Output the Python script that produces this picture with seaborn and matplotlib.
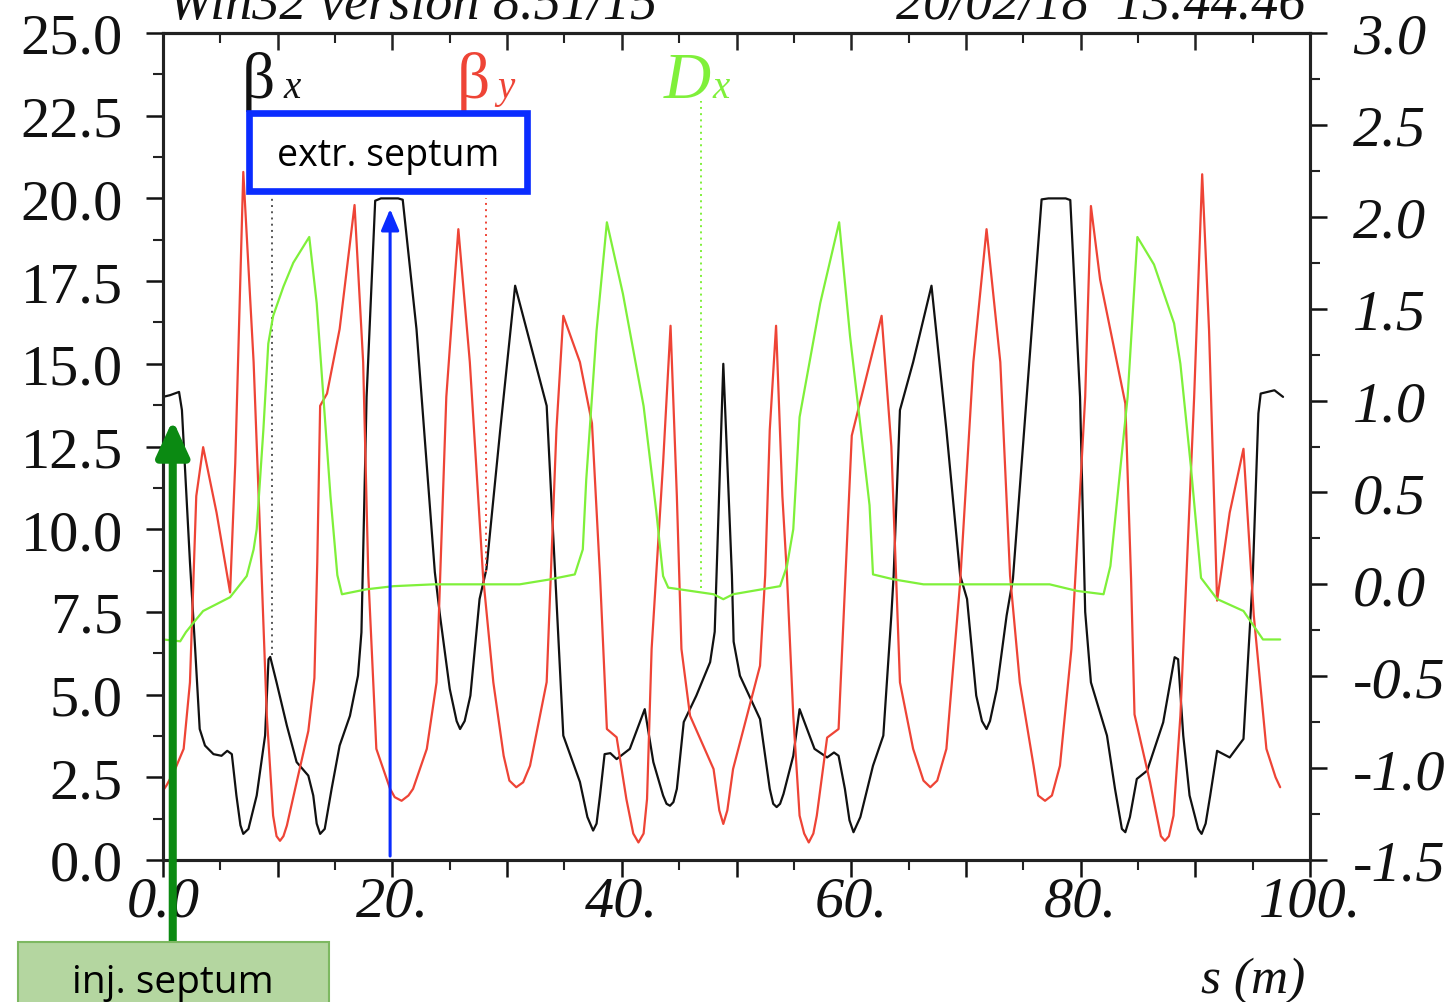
import numpy as np
import pandas as pd
import matplotlib
matplotlib.use("Agg")
import matplotlib.pyplot as plt
import seaborn as sns
from matplotlib.patches import Rectangle, FancyArrowPatch

# ---------------- data ----------------
s_bx = [0.0, 0.6, 1.4, 1.65, 2.35, 2.8, 3.2, 3.66, 4.4, 5.1, 5.6, 6.0, 6.4, 6.75, 7.0, 7.45,
        8.17, 8.9, 9.2, 9.35, 9.9, 10.8, 11.65, 12.67, 13.1, 13.4, 13.7, 14.1, 14.7, 15.4,
        16.3, 17.0, 17.3, 17.75, 18.5, 19.0, 20.5, 20.9, 22.1, 23.7, 24.15, 25.0, 25.6,
        25.9, 26.3, 26.8, 27.6, 28.2, 29.4, 30.7, 32.3, 33.45, 34.2, 34.9, 36.35, 37.0,
        37.5, 37.8, 38.1, 38.5, 39.0, 39.55, 40.7, 42.0, 42.75, 43.6, 43.9, 44.2, 44.5, 44.8,
        45.4, 46.5, 47.7, 48.1, 48.85, 49.6, 49.75, 50.3, 52.05, 52.9, 53.2, 53.5, 53.8, 54.1,
        54.95, 55.5, 56.8, 57.9, 58.5, 58.9, 59.45, 59.85, 60.2, 60.8, 61.9, 62.8, 63.5, 63.7,
        64.25, 65.4, 67.0, 68.3, 69.5, 70.1, 70.9, 71.4, 71.8, 72.1, 72.7, 73.55, 74.1, 76.6,
        77.2, 78.7, 79.1, 79.95, 80.4, 80.9, 82.3, 83.0, 83.6, 83.9, 84.3, 84.9, 85.8, 87.2,
        88.2, 88.5, 88.95, 89.5, 90.25, 90.55, 90.9, 91.3, 91.9, 93.0, 94.2, 95.0, 95.5, 95.7,
        96.9, 97.65]
beta_x = [14.0, 14.05, 14.15, 13.6, 9.0, 6.4, 3.96, 3.46, 3.2, 3.15, 3.3, 3.2, 1.95, 1.05, 0.79, 0.94,
          1.95, 3.76, 6.07, 6.14, 5.37, 4.06, 2.96, 2.55, 1.95, 1.1, 0.79, 0.94, 2.15, 3.46,
          4.36, 5.57, 6.88, 14.0, 19.93, 20.0, 20.0, 19.96, 16.05, 8.7, 7.39, 5.17, 4.2,
          3.96, 4.2, 4.97, 7.89, 8.8, 13.0, 17.36, 15.25, 13.73, 8.6, 3.76, 2.36, 1.3,
          0.89, 1.1, 1.95, 3.2, 3.23, 3.05, 3.36, 4.56, 2.96, 1.95, 1.7, 1.64, 1.75, 2.15,
          4.17, 4.97, 5.98, 6.9, 15.0, 8.6, 6.6, 5.57, 4.26, 2.15, 1.7, 1.6, 1.7, 2.0,
          3.15, 4.56, 3.36, 3.1, 3.25, 3.15, 2.15, 1.2, 0.84, 1.3, 2.85, 3.76, 7.4, 8.6,
          13.6, 15.05, 17.36, 13.0, 8.6, 7.89, 4.97, 4.2, 3.96, 4.2, 5.17, 7.39, 8.5, 19.97,
          20.0, 20.0, 19.95, 14.0, 7.5, 5.37, 3.76, 2.15, 0.94, 0.84, 1.3, 2.45, 2.7, 4.16,
          6.13, 6.07, 3.76, 1.95, 0.94, 0.79, 1.1, 1.95, 3.3, 3.1, 3.66, 8.5, 13.5, 14.1,
          14.2, 14.0]

s_by = [0.0, 0.3, 1.0, 1.8, 2.35, 2.9, 3.5, 4.67, 5.85, 6.3, 7.0, 7.9, 8.6, 9.05, 9.6, 9.9,
        10.2, 10.5, 10.8, 11.65, 12.67, 13.2, 13.45, 13.7, 14.3, 15.4, 16.7, 17.45, 17.9, 18.6,
        19.8, 20.2, 20.8, 21.4, 21.8, 23.0, 23.85, 24.7, 25.75, 26.75, 27.9, 28.8, 29.7, 30.2,
        30.8, 31.4, 32.0, 33.45, 34.3, 34.9, 36.35, 37.4, 38.1, 38.7, 39.55, 40.4, 41.0, 41.45,
        41.9, 42.2, 42.6, 43.6, 44.25, 44.8, 45.2, 45.95, 48.0, 48.5, 48.85, 49.2, 49.7, 52.05,
        52.5, 52.9, 53.45, 54.0, 54.4, 54.95, 55.5, 55.9, 56.3, 56.7, 57.0, 57.9, 58.9, 59.6,
        60.05, 62.65, 63.5, 64.25, 65.4, 66.3, 66.9, 67.5, 68.3, 69.5, 70.65, 71.8, 73.0, 73.85,
        74.7, 75.9, 76.3, 76.9, 77.5, 78.2, 79.2, 80.4, 80.9, 81.7, 83.9, 84.4, 84.7, 86.05,
        87.0, 87.35, 87.7, 88.1, 88.7, 89.9, 90.6, 91.2, 91.9, 93.0, 94.2, 95.1, 96.2, 97.0,
        97.4]
beta_y = [2.1, 2.25, 2.7, 3.36, 5.37, 11.0, 12.48, 10.5, 8.09, 12.0, 20.8, 15.05, 8.6, 4.36, 1.34, 0.72,
          0.58, 0.72, 1.04, 2.35, 3.9, 5.5, 9.0, 13.73, 14.1, 16.05, 19.8, 15.05, 8.6, 3.36,
          2.15, 1.9, 1.79, 1.95, 2.15, 3.36, 5.37, 14.0, 19.07, 15.05, 8.6, 5.37, 3.15, 2.4,
          2.2, 2.35, 2.85, 5.38, 13.0, 16.45, 15.05, 13.2, 8.6, 3.96, 3.71, 1.84, 0.8, 0.53,
          0.8, 1.84, 6.38, 12.0, 16.15, 11.0, 6.38, 4.36, 2.75, 1.5, 1.09, 1.5, 2.75, 5.87,
          8.6, 13.0, 16.15, 11.0, 8.6, 4.36, 1.34, 0.8, 0.53, 0.8, 1.34, 3.7, 3.96, 9.4,
          12.83, 16.45, 12.5, 5.37, 3.36, 2.4, 2.2, 2.4, 3.36, 8.4, 15.05, 19.07, 15.05, 8.6,
          5.37, 2.85, 1.95, 1.79, 1.95, 2.85, 6.38, 14.0, 19.77, 17.55, 13.8, 8.5, 4.4, 2.36,
          0.72, 0.58, 0.72, 1.34, 4.36, 14.0, 20.73, 16.0, 7.84, 10.5, 12.43, 7.39, 3.36, 2.5,
          2.2]

s_dx = [0.0, 1.5, 2.0, 2.64, 3.5, 5.85, 7.3, 7.9, 8.17, 8.75, 9.18, 9.6, 10.5, 11.36, 12.75,
        13.4, 14.6, 15.2, 15.6, 17.75, 20.1, 23.6, 31.1, 33.75, 35.9, 36.6, 36.9, 37.8,
        38.7, 40.1, 41.9, 43.0, 43.6, 44.05, 48.0, 48.85, 49.7, 53.8, 54.4, 54.95, 55.5,
        57.3, 58.95, 59.9, 61.6, 61.9, 63.7, 66.3, 77.3, 79.7, 82.0, 82.6, 84.1, 84.95,
        86.4, 88.15, 88.7, 89.6, 90.5, 91.9, 94.2, 95.9, 97.4]
disp_x = [-0.30, -0.31, -0.26, -0.21, -0.145, -0.07, 0.045, 0.19, 0.30, 0.84, 1.31, 1.46, 1.62, 1.75, 1.89,
          1.53, 0.48, 0.05, -0.054, -0.027, -0.01, 0.0, 0.0, 0.027, 0.054, 0.19, 0.57, 1.38,
          1.97, 1.58, 0.97, 0.40, 0.045, -0.018, -0.054, -0.081, -0.054, -0.01, 0.1, 0.30, 0.91,
          1.53, 1.97, 1.35, 0.43, 0.054, 0.027, 0.0, 0.0, -0.036, -0.054, 0.1, 1.02, 1.89,
          1.74, 1.42, 1.20, 0.65, 0.035, -0.08, -0.145, -0.30, -0.30]

x_ticks = [0, 10, 20, 30, 40, 50, 60, 70, 80, 90, 100]
x_ticklabels = ["0.0", "", "20.", "", "40.", "", "60.", "", "80.", "", "100."]
left_ticks = [0.0, 2.5, 5.0, 7.5, 10.0, 12.5, 15.0, 17.5, 20.0, 22.5, 25.0]
left_ticklabels = ["0.0", "2.5", "5.0", "7.5", "10.0", "12.5", "15.0", "17.5", "20.0", "22.5", "25.0"]
right_ticks = [-1.5, -1.0, -0.5, 0.0, 0.5, 1.0, 1.5, 2.0, 2.5, 3.0]
right_ticklabels = ["-1.5", "-1.0", "-0.5", "0.0", "0.5", "1.0", "1.5", "2.0", "2.5", "3.0"]

# label leader lines (s position, bottom, top)
leader_bx = (9.5, 6.2, 20.0)
leader_by = (28.2, 8.7, 20.0)
leader_dx = (46.9, -0.02, 2.63)   # in Dx units
inj_septum_s = 0.85
extr_septum_s = 19.8

# ---------------- style ----------------
sns.set_theme(style="white")
plt.rcParams['font.family'] = ['Liberation Serif', 'DejaVu Serif']
plt.rcParams['axes.unicode_minus'] = False

RED = '#ee4436'
GREEN = '#7ff03a'
W, H = 1452, 1003
fig = plt.figure(figsize=(W / 100, H / 100), dpi=100)
fig.patch.set_facecolor('white')
L, R, T, B = 163, 1310, 34, 861
ax = fig.add_axes([L / W, 1 - B / H, (R - L) / W, (B - T) / H])
ax2 = ax.twinx()


def fx(px):
    return px / W


def fy(py):
    return 1 - py / H


df_bx = pd.DataFrame({'s': s_bx, 'v': beta_x})
df_by = pd.DataFrame({'s': s_by, 'v': beta_y})
df_dx = pd.DataFrame({'s': s_dx, 'v': disp_x})

sns.lineplot(data=df_bx, x='s', y='v', ax=ax, color='#111111', lw=1.6, estimator=None, sort=False)
sns.lineplot(data=df_by, x='s', y='v', ax=ax, color=RED, lw=1.6, estimator=None, sort=False)
sns.lineplot(data=df_dx, x='s', y='v', ax=ax2, color=GREEN, lw=1.6, estimator=None, sort=False)

ax.vlines(leader_bx[0], leader_bx[1], leader_bx[2], colors='#555555', linestyles=(0, (1, 2.2)), lw=1.4)
ax.vlines(leader_by[0], leader_by[1], leader_by[2], colors=RED, linestyles=(0, (1, 2.2)), lw=1.4)
ax2.vlines(leader_dx[0], leader_dx[1], leader_dx[2], colors=GREEN, linestyles=(0, (1, 2.2)), lw=1.4)

ax.set_xlim(0, 100)
ax.set_ylim(0, 25)
ax2.set_ylim(-1.5, 3.0)
for a in (ax, ax2):
    a.set_xlabel('')
    a.set_ylabel('')
    for sp in a.spines.values():
        sp.set_linewidth(2.2)
        sp.set_color('#222222')

TFS = 42
ax.set_xticks(x_ticks)
ax.set_xticklabels(x_ticklabels, fontstyle='italic', fontsize=TFS)
ax.set_xticks(list(range(5, 100, 10)), minor=True)
ax.set_yticks(left_ticks)
ax.set_yticklabels(left_ticklabels, fontsize=TFS)
ax.set_yticks([v + 1.25 for v in left_ticks[:-1]], minor=True)
ax2.set_yticks(right_ticks)
ax2.set_yticklabels(right_ticklabels, fontstyle='italic', fontsize=TFS)
ax2.set_yticks([v + 0.25 for v in right_ticks[:-1]], minor=True)

ax.tick_params(axis='x', which='major', direction='out', length=12, width=1.8, pad=-1, bottom=True, top=False, colors='#111111')
ax.tick_params(axis='x', which='minor', direction='out', length=7, width=1.5, bottom=True, top=False, color='#222222')
ax.tick_params(axis='y', which='major', direction='out', length=12, width=1.8, pad=17, left=True, right=False, colors='#111111')
ax.tick_params(axis='y', which='minor', direction='out', length=7, width=1.5, left=True, right=False, color='#222222')
ax2.tick_params(axis='y', which='major', direction='out', length=12, width=1.8, pad=19, right=True, left=False, colors='#111111')
ax2.tick_params(axis='y', which='minor', direction='out', length=7, width=1.5, right=True, left=False, color='#222222')

sec = ax.secondary_xaxis('top')
sec.set_xticks(x_ticks)
sec.set_xticks(list(range(5, 100, 10)), minor=True)
sec.tick_params(axis='x', which='major', direction='in', length=12, width=1.8, labeltop=False, color='#222222')
sec.tick_params(axis='x', which='minor', direction='in', length=7, width=1.5, labeltop=False, color='#222222')
sec.spines['top'].set_linewidth(2.2)

# header texts (clipped at the top of the image, as in the original)
fig.text(fx(168), fy(19), 'Win32 version 8.51/15', fontsize=39, fontstyle='italic', va='baseline', ha='left', color='#111111')
fig.text(fx(1305), fy(19), '20/02/18  13.44.46', fontsize=39, fontstyle='italic', va='baseline', ha='right', color='#111111')

# curve labels
fig.text(fx(242), fy(98), 'β', fontsize=47, color='#111111', va='baseline', ha='left')
fig.text(fx(283), fy(98), 'x', fontsize=28, fontstyle='italic', color='#111111', va='baseline', ha='left')
fig.text(fx(457), fy(98), 'β', fontsize=47, color=RED, va='baseline', ha='left')
fig.text(fx(497), fy(98), 'y', fontsize=28, fontstyle='italic', color=RED, va='baseline', ha='left')
fig.text(fx(664), fy(98), 'D', fontsize=47, fontstyle='italic', color=GREEN, va='baseline', ha='left')
fig.text(fx(712), fy(98), 'x', fontsize=28, fontstyle='italic', color=GREEN, va='baseline', ha='left')

fig.text(fx(1253), fy(993), 's (m)', fontsize=37, fontstyle='italic', va='baseline', ha='center', color='#111111')

# extraction septum
fig.add_artist(Rectangle((fx(249), fy(192)), (527 - 249) / W, (192 - 114) / H, transform=fig.transFigure,
                         facecolor='white', edgecolor='#0a2cff', lw=4.8, zorder=6))
fig.text(fx(388), fy(156), 'extr. septum', fontsize=27, family=['Open Sans', 'DejaVu Sans'],
         va='center', ha='center', zorder=7, color='black')
blue_arrow = FancyArrowPatch((extr_septum_s, 0.12), (extr_septum_s, 19.68), transform=ax.transData,
                             arrowstyle='-|>,head_length=1.3,head_width=0.55', mutation_scale=10,
                             color='#0a2cff', lw=2.2, shrinkA=0, shrinkB=0, zorder=5)
fig.add_artist(blue_arrow)

# injection septum
green_arrow = FancyArrowPatch((inj_septum_s, -2.6), (inj_septum_s, 13.3), transform=ax.transData,
                              arrowstyle='-|>,head_length=1.2,head_width=0.55', mutation_scale=18,
                              color='#0b8a12', lw=5.8, shrinkA=0, shrinkB=0, zorder=5)
fig.add_artist(green_arrow)
fig.add_artist(Rectangle((fx(18), fy(1015)), (329 - 18) / W, (1015 - 943) / H, transform=fig.transFigure,
                         facecolor='#b4d6a0', edgecolor='#7db861', lw=1.5, zorder=6))
fig.text(fx(173), fy(983), 'inj. septum', fontsize=28, family=['Open Sans', 'DejaVu Sans'],
         va='center', ha='center', zorder=7, color='black')

fig.savefig('out.png', dpi=100, facecolor='white')
